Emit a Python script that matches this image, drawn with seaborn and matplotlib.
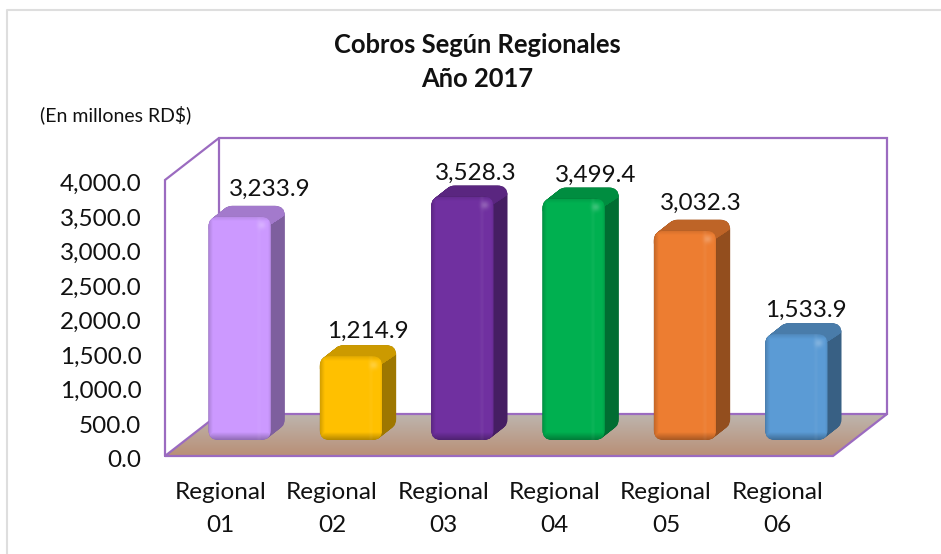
import numpy as np
import pandas as pd
import matplotlib
matplotlib.use("Agg")
import matplotlib.pyplot as plt
import matplotlib.colors as mcolors
from matplotlib.patches import FancyBboxPatch, Polygon
from matplotlib.transforms import ScaledTranslation
import seaborn as sns

# data
regionales = ["Regional\n01", "Regional\n02", "Regional\n03", "Regional\n04", "Regional\n05", "Regional\n06"]
cobros = [3233.9, 1214.9, 3528.3, 3499.4, 3032.3, 1533.9]
colores = ["#CC99FF", "#FFC000", "#7030A0", "#00B050", "#ED7D31", "#5B9BD5"]
y_ticks = [0, 500, 1000, 1500, 2000, 2500, 3000, 3500, 4000]

# label nudges in pixels, the labels were moved by hand in the original
label_dx = [30, 17, 13, 22, 16, 10]
label_dy = [28, 25, 23, 23, 27, 24]

W, H = 941, 554
sns.set_theme(style="white")
plt.rcParams["font.family"] = ["Lato", "DejaVu Sans"]
purple = "#9B6BC0"

df = pd.DataFrame({"regional": regionales, "cobros": cobros})

fig = plt.figure(figsize=(W / 100, H / 100), dpi=100)


def px_axes(x0, y_top, x1, y_bot, z):
    return fig.add_axes([x0 / W, 1 - y_bot / H, (x1 - x0) / W, (y_bot - y_top) / H], zorder=z)


def pixel_layer(z):
    a = px_axes(0, 0, W, H, z)
    a.set_xlim(0, W)
    a.set_ylim(H, 0)
    a.axis("off")
    return a


# full figure layer in pixels for the box
bg = pixel_layer(0)

# only the top and left side of the chart border are in the crop
bg.plot([7.5, 7.5, W], [H, 9.5, 9.5], color="#DEDEDE", lw=1.5)

# floor with gradient
floor = Polygon([(165, 456), (219, 414), (887, 414), (833, 456)], closed=True, fc="none", ec="none")
bg.add_patch(floor)
t = np.linspace(0, 1, 64)[:, None, None]
grad = t * np.array(mcolors.to_rgb("#B98F76")) + (1 - t) * np.array(mcolors.to_rgb("#BDB5AE"))
im = bg.imshow(grad, extent=(165, 887, 456, 414), aspect="auto", zorder=1)
im.set_clip_path(floor)
bg.set_xlim(0, W)
bg.set_ylim(H, 0)

# walls
bg.plot([165, 165, 219, 887, 887, 833, 165, 219, 887], [456, 180, 138, 138, 414, 456, 456, 414, 414],
        color=purple, lw=1.6, zorder=2, solid_joinstyle="miter")
bg.plot([219, 219], [138, 414], color=purple, lw=1.6, zorder=2)

# axis with the ticks, front edge of the box
ax = px_axes(165, 180, 833, 456, 1)
ax.patch.set_alpha(0)
sns.barplot(data=df, x="regional", y="cobros", ax=ax, alpha=0)
ax.set_xlim(-0.5, 5.5)
ax.set_ylim(0, 4000)
ax.set_yticks(y_ticks)
ax.set_yticklabels([f"{v:,.1f}" for v in y_ticks])
ax.tick_params(axis="y", length=0, pad=17, labelsize=17.5, labelcolor="#111111")
ax.tick_params(axis="x", length=0, pad=19, labelsize=17.5, labelcolor="#111111")
for lab in ax.get_xticklabels():
    lab.set_linespacing(1.68)
for lab in ax.get_yticklabels():
    lab.set_transform(lab.get_transform() + ScaledTranslation(0, -2 / 72, fig.dpi_scale_trans))
ax.set_xlabel("")
ax.set_ylabel("")
sns.despine(ax=ax, left=True, bottom=True)

# real bars stand inside the box, shifted back from the front edge
bx = px_axes(165 + 19, 180 - 16, 833 + 19, 456 - 16, 3)
bx.patch.set_alpha(0)
sns.barplot(data=df, x="regional", y="cobros", hue="regional", palette=colores, legend=False,
            width=0.56, ax=bx, saturation=1, linewidth=0)
bx.set_xlim(-0.5, 5.5)
bx.set_ylim(0, 4000)
bx.axis("off")

# extrusion and shading go on pixel layers below and above the bars
mid = pixel_layer(2)
fx = pixel_layer(4)

fig.canvas.draw()
to_px = bx.transData
radius = 10
dep_x, dep_y = 14, 11


def rounded(x, y, w, h, r, **kw):
    return FancyBboxPatch((x + r, y + r), w - 2 * r, h - 2 * r,
                          boxstyle=f"round,pad={r},rounding_size={r}", **kw)


for bar, col in zip(bx.patches, colores):
    (x0, y0) = to_px.transform((bar.get_x(), 0))
    (x1, y1) = to_px.transform((bar.get_x() + bar.get_width(), bar.get_height()))
    left, right = x0, x1
    bot, top = H - y0, H - y1
    w, h = right - left, bot - top
    base = np.array(mcolors.to_rgb(col))
    side = base * 0.62
    roof = base * 0.8

    # extrude backwards, side colour then roof colour above the corner diagonal
    roof_zone = Polygon([(left - 20, top + 22), (left - 20, top - 30), (right + dep_x + 2, top - 30),
                         (right + dep_x + 2, top - dep_y + 8), (right - 1, top + 8), (left + 10, top + 8)],
                        closed=True, transform=mid.transData)
    for s in np.linspace(0, 1, 24):
        sx, sy = left + s * dep_x, top - s * dep_y
        mid.add_patch(rounded(sx, sy, w, h, radius, fc=side, ec="none"))
    for s in np.linspace(0, 1, 24):
        sx, sy = left + s * dep_x, top - s * dep_y
        p = rounded(sx, sy, w, h, radius, fc=roof, ec="none")
        mid.add_patch(p)
        p.set_clip_path(roof_zone)

    # rounded front, the seaborn bar clipped to it
    shape = rounded(left, top, w, h, radius, fc="none", ec="none", transform=fx.transData)
    fx.add_patch(shape)
    bar.set_clip_path(shape)

    # bevel on the front face
    nx, ny = int(w), int(h)
    xx, yy = np.meshgrid(np.arange(nx) + 0.5, np.arange(ny) + 0.5)
    dl, dr, dt, db = xx, nx - xx, yy, ny - yy
    dark = np.zeros((ny, nx, 4))
    dark[..., 3] = np.maximum.reduce([np.clip(1 - dl / 5, 0, 1) * 0.18,
                                      np.clip(1 - db / 8, 0, 1) * 0.30,
                                      np.clip(1 - dr / 3, 0, 1) * 0.10,
                                      np.clip(1 - dt / 5, 0, 1) * 0.12])
    img = fx.imshow(dark, extent=(left, right, bot, top), aspect="auto", zorder=3)
    img.set_clip_path(shape)
    # soft lit band along the right and the spot in the top right corner
    spot = np.exp(-(((dr - 9) / 4) ** 2 + ((dt - 9) / 4) ** 2)) * 0.22
    band = np.clip(1 - np.abs(dr - 12) / 3, 0, 1) * 0.05
    light = np.ones((ny, nx, 4))
    light[..., 3] = spot + band
    img2 = fx.imshow(light, extent=(left, right, bot, top), aspect="auto", zorder=3)
    img2.set_clip_path(shape)
    fx.set_xlim(0, W)
    fx.set_ylim(H, 0)

# value labels
for bar, v, dx, dy in zip(bx.patches, cobros, label_dx, label_dy):
    bx.annotate(f"{v:,.1f}", (bar.get_x() + bar.get_width() / 2, v), xytext=(dx * 0.72, dy * 0.72),
                textcoords="offset points", ha="center", va="center", fontsize=17.5, color="#111111",
                annotation_clip=False, zorder=10)

fig.text(477 / W, 1 - 62 / H, "Cobros Según Regionales\nAño 2017", ha="center", va="center",
         fontsize=18.4, fontweight="bold", color="#111111", linespacing=1.46, zorder=10)
fig.text(40 / W, 1 - 115 / H, "(En millones RD$)", ha="left", va="center", fontsize=14,
         color="#111111", zorder=10)

fig.savefig("out.png", dpi=100)
